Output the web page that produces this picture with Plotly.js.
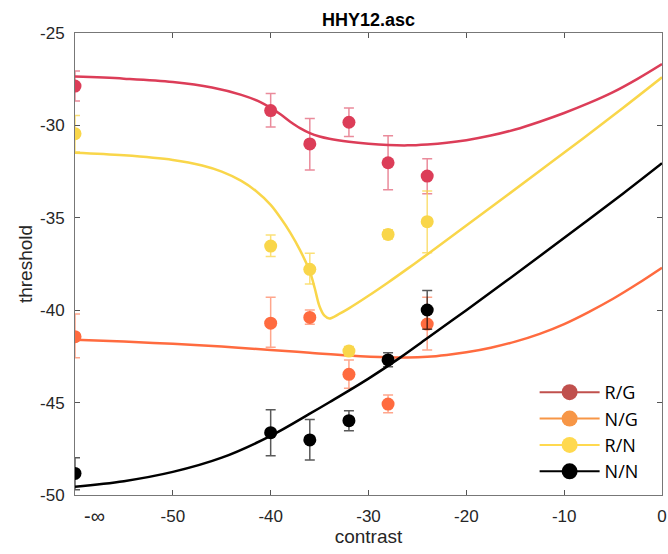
<!DOCTYPE html>
<html>
<head>
<meta charset="utf-8">
<script src="https://cdn.plot.ly/plotly-3.0.1.min.js"></script>
<style>html,body{margin:0;padding:0;background:#fff;}#chart{width:668px;height:554px;}</style>
</head>
<body>
<div id="chart"></div>
<script>
// ---- data ----
const contrast = [-60, -40, -36, -32, -28, -24];

const rgY      = [-27.87, -29.20, -31.00, -29.83, -32.02, -32.74];
const rgPlus   = [0.81, 0.92, 1.38, 0.77, 1.46, 0.94];
const rgMinus  = [0.81, 0.89, 1.41, 0.77, 1.46, 0.96];

const ngY      = [-41.43, -40.70, -40.39, -43.47, -45.08, -40.75];
const ngPlus   = [1.23, 1.40, 0.40, 0.78, 0.49, 1.45];
const ngMinus  = [1.14, 1.30, 0.37, 0.76, 0.47, 1.40];

const rnY      = [-30.45, -36.53, -37.79, -42.21, -35.90, -35.21];
const rnPlus   = [0.98, 0.60, 0.87, 0.25, 0.25, 1.66];
const rnMinus  = [0.99, 0.57, 0.79, 0.25, 0.25, 1.68];

const nnY      = [-48.83, -46.63, -47.02, -45.98, -42.69, -39.99];
const nnPlus   = [0.85, 1.24, 1.10, 0.54, 0.39, 1.05];
const nnMinus  = [0.88, 1.25, 1.09, 0.54, 0.37, 1.04];

// fitted curves
const rgFitX = [-60, -55, -50, -46, -43, -41, -40, -39, -38, -37, -36, -35, -34, -32, -30, -28, -26, -24, -22, -20, -17.5, -15, -12.5, -10, -7.5, -5, -2.5, 0];
const rgFitY = [-27.36, -27.47, -27.65, -27.95, -28.35, -28.75, -29.05, -29.4, -29.8, -30.15, -30.42, -30.6, -30.72, -30.88, -30.99, -31.06, -31.08, -31.03, -30.94, -30.8, -30.55, -30.22, -29.8, -29.33, -28.8, -28.2, -27.48, -26.68];

const ngFitX = [-60, -55, -50, -45, -40, -36, -32, -28, -26, -24, -22, -20, -17.5, -15, -12.5, -10, -7.5, -5, -2.5, 0];
const ngFitY = [-41.6, -41.7, -41.82, -41.97, -42.15, -42.3, -42.45, -42.55, -42.56, -42.52, -42.42, -42.28, -42.03, -41.7, -41.28, -40.75, -40.1, -39.38, -38.57, -37.7];

const rnFitX = [-60, -55, -50, -47, -45, -43, -41.5, -40, -39, -38, -37, -36, -35.5, -35, -34.5, -34, -33, -32, -30, -28, -26, -24, -20, -16, -12, -8, -4, 0];
const rnFitY = [-31.48, -31.62, -31.87, -32.17, -32.5, -33.0, -33.55, -34.3, -35.0, -35.8, -36.75, -37.9, -38.8, -39.8, -40.3, -40.45, -40.2, -39.9, -39.22, -38.5, -37.75, -36.98, -35.42, -33.85, -32.27, -30.68, -29.06, -27.4];

const nnFitX = [-60, -55, -50, -45, -40, -36, -34, -30, -26.8, -24, -20, -16, -12, -8, -4, 0];
const nnFitY = [-49.55, -49.25, -48.75, -47.98, -46.8, -45.6, -44.98, -43.7, -42.58, -41.52, -40.0, -38.45, -36.88, -35.3, -33.7, -32.05];

const seriesNames = ['R/G', 'N/G', 'R/N', 'N/N'];
const tickVals = [-60, -50, -40, -30, -20, -10, 0];
const tickText = ['', '-50', '-40', '-30', '-20', '-10', '0'];
const yTickVals = [-50, -45, -40, -35, -30, -25];
const yTickText = ['-50', '-45', '-40', '-35', '-30', '-25'];

// ---- styles ----
const col = {rg: '#DC3D58', ng: '#FF6B3F', rn: '#F9D64A', nn: '#000000'};
const errCol = {rg: 'rgba(220,61,88,0.6)', ng: 'rgba(255,107,63,0.6)', rn: 'rgba(249,214,74,0.75)', nn: 'rgba(0,0,0,0.65)'};
const legCol = ['#C0504D', '#F79646', '#FFD94F', '#000000'];

function fit(x, y, c) {
  return {x: x, y: y, type: 'scatter', mode: 'lines', line: {color: c, width: 2.5, shape: 'spline', smoothing: 1}, showlegend: false, hoverinfo: 'skip'};
}
function pts(y, p, m, key) {
  return {x: contrast, y: y, type: 'scatter', mode: 'markers', showlegend: false,
    marker: {color: col[key], size: 13},
    error_y: {type: 'data', symmetric: false, array: p, arrayminus: m, color: errCol[key], thickness: 1.5, width: 5}};
}

const traces = [
  fit(rgFitX, rgFitY, col.rg), pts(rgY, rgPlus, rgMinus, 'rg'),
  fit(ngFitX, ngFitY, col.ng), pts(ngY, ngPlus, ngMinus, 'ng'),
  fit(rnFitX, rnFitY, col.rn), pts(rnY, rnPlus, rnMinus, 'rn'),
  fit(nnFitX, nnFitY, col.nn), pts(nnY, nnPlus, nnMinus, 'nn')
];
seriesNames.forEach(function (n, i) {
  traces.push({x: [null], y: [null], type: 'scatter', mode: 'lines+markers', name: n,
    line: {color: legCol[i], width: 2}, marker: {color: legCol[i], size: 16}});
});

const tickFont = {family: 'Liberation Sans, Arial, sans-serif', size: 17, color: '#262626'};

const layout = {
  width: 668, height: 554,
  margin: {l: 75, r: 6, t: 33, b: 59, pad: 0},
  paper_bgcolor: '#ffffff', plot_bgcolor: '#ffffff',
  title: {text: '<b>HHY12.asc</b>', font: {family: 'Liberation Sans, Arial, sans-serif', size: 18, color: '#000'},
          x: 0.5, xref: 'paper', xanchor: 'center', y: 0.964, yref: 'container', yanchor: 'middle'},
  xaxis: {range: [-60, 0], tickvals: tickVals, ticktext: tickText, ticks: 'inside', ticklen: 5, tickcolor: '#555',
          showline: true, linecolor: '#777', linewidth: 1, mirror: 'ticks', showgrid: false, zeroline: false,
          tickfont: tickFont, ticklabelstandoff: 6,
          title: {text: 'contrast', font: {family: 'Liberation Sans, Arial, sans-serif', size: 19, color: '#262626'}, standoff: 4}},
  yaxis: {range: [-50, -25], tickvals: yTickVals, ticktext: yTickText, ticks: 'inside', ticklen: 5, tickcolor: '#555',
          showline: true, linecolor: '#777', linewidth: 1, mirror: 'ticks', showgrid: false, zeroline: false,
          tickfont: tickFont, ticklabelstandoff: 6,
          title: {text: 'threshold', font: {family: 'Liberation Sans, Arial, sans-serif', size: 19, color: '#262626'}, standoff: 2}},
  legend: {x: 0.783, y: 0.262, xanchor: 'left', yanchor: 'top', bgcolor: 'rgba(0,0,0,0)', borderwidth: 0,
           font: {family: 'Open Sans, sans-serif', size: 18, color: '#000'}, itemwidth: 60, tracegroupgap: 0},
  annotations: [{x: -58, y: 0, xref: 'x', yref: 'paper', yanchor: 'top', yshift: -8, showarrow: false,
                 text: '-\u221E', font: {family: 'Liberation Sans, Arial, sans-serif', size: 20, color: '#262626'}}],
  showlegend: true
};

Plotly.newPlot('chart', traces, layout, {staticPlot: true, displayModeBar: false});
</script>
</body>
</html>
